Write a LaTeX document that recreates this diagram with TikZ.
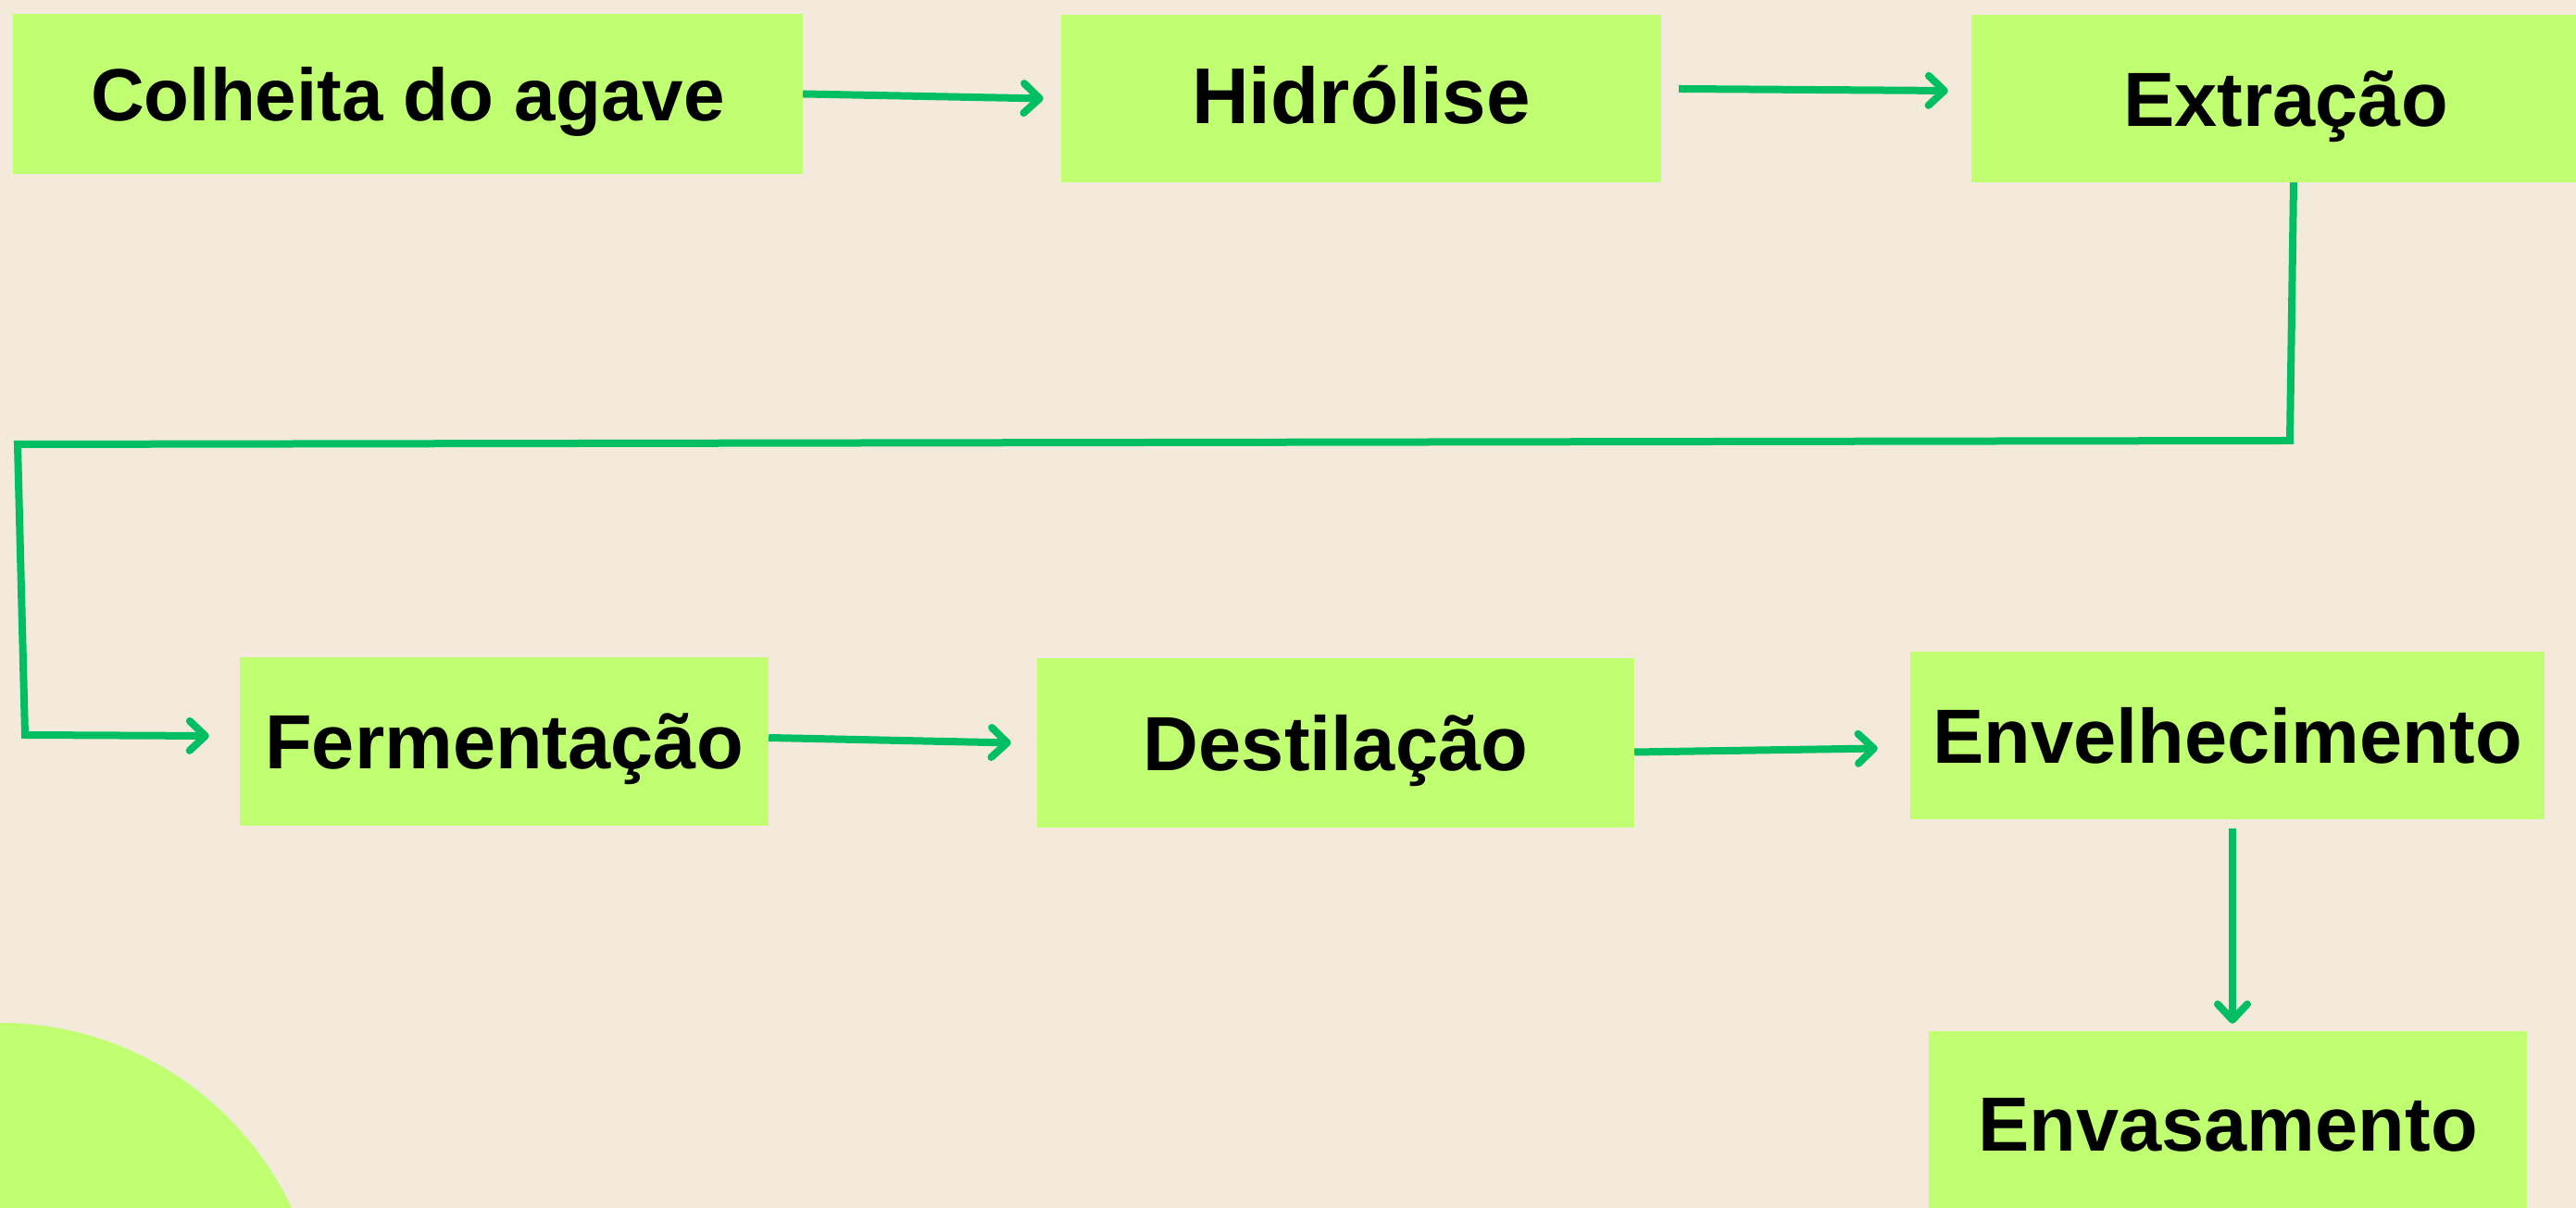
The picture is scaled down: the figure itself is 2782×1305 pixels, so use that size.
\documentclass[tikz,border=0pt]{standalone}
\usepackage{fontspec}
\setmainfont{Liberation Sans}
\usetikzlibrary{arrows.meta}
\definecolor{bgcream}{HTML}{F3EADC}
\definecolor{lime}{HTML}{C1FF72}
\definecolor{flowgreen}{HTML}{00BF63}
\tikzset{
  stepbox/.style={fill=lime, draw=none, rectangle, inner sep=0pt, align=center,
    font=\fontsize{83}{92}\selectfont\bfseries, text height=59.5pt, text depth=0pt},
  flow/.style={draw=flowgreen, line width=8pt, line join=miter},
  flowarrow/.style={flow, -{Straight Barb[length=17pt,width=32pt,round]}}
}
\begin{document}
\begin{tikzpicture}[x=1pt,y=1pt]
\useasboundingbox (0,0) rectangle (2782,1305);
\clip (0,0) rectangle (2782,1305);
\fill[bgcream] (0,0) rectangle (2782,1305);
\fill[lime] (0,-148) circle (348);

\node[stepbox, minimum width=853pt, minimum height=173pt,
  font=\fontsize{80}{88}\selectfont\bfseries, text height=57.3pt] (col) at (440.5,1203.5) {Colheita do agave};
\node[stepbox, minimum width=648pt, minimum height=181pt,
  font=\fontsize{85.5}{94}\selectfont\bfseries, text height=61.2pt, text depth=8pt] (hid) at (1470,1198.5) {Hidrólise};
\node[stepbox, minimum width=679pt, minimum height=181pt] (ext) at (2468.5,1198.5) {Extração};
\node[stepbox, minimum width=571pt, minimum height=182pt] (fer) at (544.5,504) {Fermentação};
\node[stepbox, minimum width=645pt, minimum height=183pt] (des) at (1442.5,502.5) {Destilação};
\node[stepbox, minimum width=685pt, minimum height=181pt] (env) at (2405.5,510.5) {Envelhecimento};
\node[stepbox, minimum width=646pt, minimum height=200pt] (vas) at (2406,91) {Envasamento};

\coordinate (k1) at (2473,829);
\coordinate (k2) at (19,825);
\coordinate (k3) at (27,511);

\draw[flowarrow] (col.east) -- ([xshift=-19pt]hid.west);
\draw[flowarrow] ([shift={(19,10.5)}]hid.east) -- ([shift={(-25,8.5)}]ext.west);
\draw[flowarrow] ([xshift=8.5pt]ext.south) -- (k1) -- (k2) -- (k3) -- ([shift={(-33,6)}]fer.west);
\draw[flowarrow] ([yshift=4pt]fer.east) -- ([xshift=-28pt]des.west);
\draw[flowarrow] ([yshift=-10pt]des.east) -- ([shift={(-35,-14)}]env.west);
\draw[flowarrow] ([shift={(5.5,-10)}]env.south) -- ([shift={(5,8)}]vas.north);
\end{tikzpicture}
\end{document}
